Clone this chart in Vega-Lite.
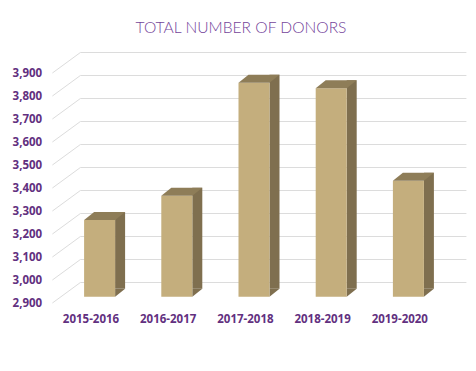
{
  "$schema": "https://vega.github.io/schema/vega-lite/v6.json",
  "width": 386,
  "height": 230,
  "autosize": {"type": "none"},
  "padding": {"left": 61, "top": 66.7, "right": 29, "bottom": 74.3},
  "background": "white",
  "config": {
    "view": {"stroke": null},
    "axisY": {"tickCount": 11, "labelOverlap": false, "labelBound": false}
  },
  "title": {
    "text": "TOTAL NUMBER OF DONORS",
    "font": "Lato",
    "fontWeight": 300,
    "fontSize": 15.6,
    "color": "#74449A",
    "anchor": "middle",
    "frame": "group",
    "dx": -13,
    "offset": 15.5
  },
  "datasets": {
    "donors": [
      {"year": "2015-2016", "donors": 3233},
      {"year": "2016-2017", "donors": 3339},
      {"year": "2017-2018", "donors": 3830},
      {"year": "2018-2019", "donors": 3806},
      {"year": "2019-2020", "donors": 3404}
    ],
    "ticks": [
      {"value": 2900}, {"value": 3000}, {"value": 3100}, {"value": 3200},
      {"value": 3300}, {"value": 3400}, {"value": 3500}, {"value": 3600},
      {"value": 3700}, {"value": 3800}, {"value": 3900}
    ]
  },
  "layer": [
    {
      "data": {"name": "ticks"},
      "mark": {"type": "rule", "color": "#DCDCDC", "strokeWidth": 1, "xOffset": 19.4, "x2Offset": 19.4, "yOffset": -14.2, "y2Offset": -14.2},
      "encoding": {
        "x": {"value": 0},
        "x2": {"value": {"expr": "width"}},
        "y": {
          "field": "value", "type": "quantitative",
          "scale": {"domain": [2900, 3900], "zero": false, "nice": false},
          "axis": {
            "title": null, "values": [2900, 3000, 3100, 3200, 3300, 3400, 3500, 3600, 3700, 3800, 3900],
            "tickCount": 11,
            "format": ",.0f", "grid": false, "domain": false, "ticks": false, "tickSize": 0,
            "labelOverlap": false, "labelBound": false,
            "labelOffset": 6.3, "labelPadding": 19.3,
            "labelFont": "Open Sans", "labelFontWeight": "bold", "labelFontSize": 11.5, "labelColor": "#62307F"
          }
        },
        "y2": {"field": "value"}
      }
    },
    {
      "data": {"name": "ticks"},
      "mark": {"type": "rule", "color": "#DCDCDC", "strokeWidth": 1, "xOffset": -8.6, "x2Offset": 19.4, "yOffset": 6.3, "y2Offset": -14.2},
      "encoding": {
        "x": {"value": 0},
        "x2": {"value": 0},
        "y": {"field": "value", "type": "quantitative"},
        "y2": {"field": "value"}
      }
    },
    {
      "data": {"name": "donors"},
      "mark": {"type": "bar", "color": "#7F6F4F", "width": 10, "xOffset": 20.5, "yOffset": -8, "y2Offset": -8},
      "encoding": {
        "x": {
          "field": "year", "type": "nominal",
          "scale": {"paddingInner": 0.6, "paddingOuter": 0.3},
          "axis": {
            "title": null, "labelAngle": 0, "domain": false, "ticks": false, "tickSize": 0,
            "labelOffset": -8.6, "labelPadding": 16.5,
            "labelFont": "Open Sans", "labelFontWeight": "bold", "labelFontSize": 11.5, "labelColor": "#62307F"
          }
        },
        "y": {"field": "donors", "type": "quantitative"},
        "y2": {"datum": 2900}
      }
    },
    {
      "data": {"name": "donors"},
      "mark": {"type": "point", "shape": "M1.55,-0.8 L2.55,-0.8 L1.55,0 Z", "size": 400, "filled": true, "opacity": 1, "color": "#7F6F4F", "strokeWidth": 0},
      "encoding": {
        "x": {"field": "year", "type": "nominal"},
        "y": {"datum": 2900, "type": "quantitative"}
      }
    },
    {
      "data": {"name": "donors"},
      "mark": {"type": "bar", "color": "#C4AE7D", "width": 31},
      "encoding": {
        "x": {"field": "year", "type": "nominal"},
        "y": {"field": "donors", "type": "quantitative"},
        "y2": {"datum": 2900}
      }
    },
    {
      "data": {"name": "donors"},
      "mark": {"type": "point", "shape": "M-1.55,0 L1.55,0 L2.55,-0.8 L-0.55,-0.8 Z", "size": 400, "filled": true, "opacity": 1, "color": "#8E7D58", "strokeWidth": 0},
      "encoding": {
        "x": {"field": "year", "type": "nominal"},
        "y": {"field": "donors", "type": "quantitative"}
      }
    }
  ]
}
